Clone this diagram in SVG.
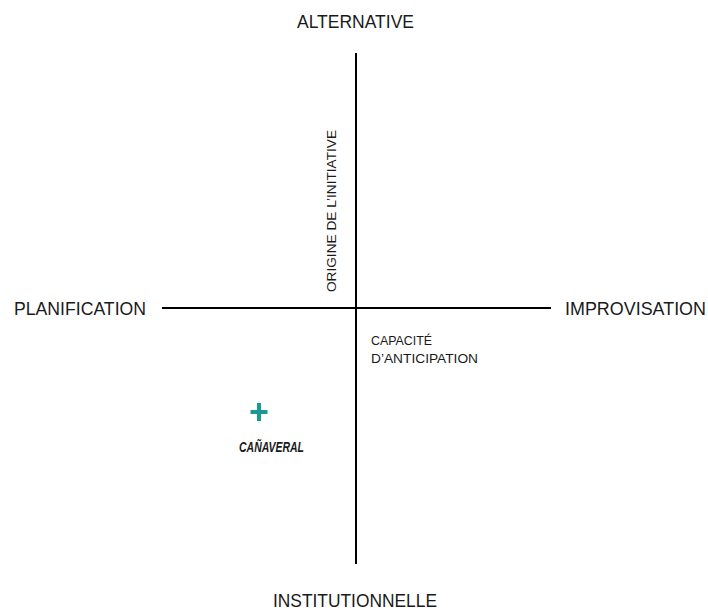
<svg xmlns="http://www.w3.org/2000/svg" width="708" height="612" viewBox="0 0 708 612">
<style>
.t{font-family:"Liberation Sans",Arial,sans-serif;fill:#1a1a1a}
.big{font-size:17.5px}
.sm{font-size:13px}
.ax{stroke:#000;stroke-width:2;fill:none}
</style>
<rect width="708" height="612" fill="#fff"/>
<g id="connectors">
<line class="ax" x1="356" y1="53" x2="356" y2="564"/>
<line class="ax" x1="162" y1="308" x2="551" y2="308"/>
</g>
<g id="alternative"><text class="t big" x="355.5" y="28" text-anchor="middle" textLength="117" lengthAdjust="spacingAndGlyphs">ALTERNATIVE</text></g>
<g id="planification"><text class="t big" x="14" y="315" textLength="132" lengthAdjust="spacingAndGlyphs">PLANIFICATION</text></g>
<g id="improvisation"><text class="t big" x="565" y="315" textLength="141" lengthAdjust="spacingAndGlyphs">IMPROVISATION</text></g>
<g id="institutionnelle"><text class="t big" x="355" y="607" text-anchor="middle" textLength="164" lengthAdjust="spacingAndGlyphs">INSTITUTIONNELLE</text></g>
<g id="origine"><text class="t sm" transform="translate(336,292) rotate(-90)" x="0" y="0" textLength="162" lengthAdjust="spacingAndGlyphs">ORIGINE DE L’INITIATIVE</text></g>
<g id="capacite">
<text class="t sm" x="371" y="345" textLength="61" lengthAdjust="spacingAndGlyphs">CAPACITÉ</text>
<text class="t sm" x="371" y="363" textLength="107" lengthAdjust="spacingAndGlyphs">D’ANTICIPATION</text>
</g>
<g id="canaveral">
<path d="M259 403v18M250.5 412h17" stroke="#1a9a94" stroke-width="4" fill="none"/>
<text class="t" x="239" y="452" font-size="15.5" font-weight="bold" font-style="italic" textLength="65" lengthAdjust="spacingAndGlyphs">CAÑAVERAL</text>
</g>
</svg>
